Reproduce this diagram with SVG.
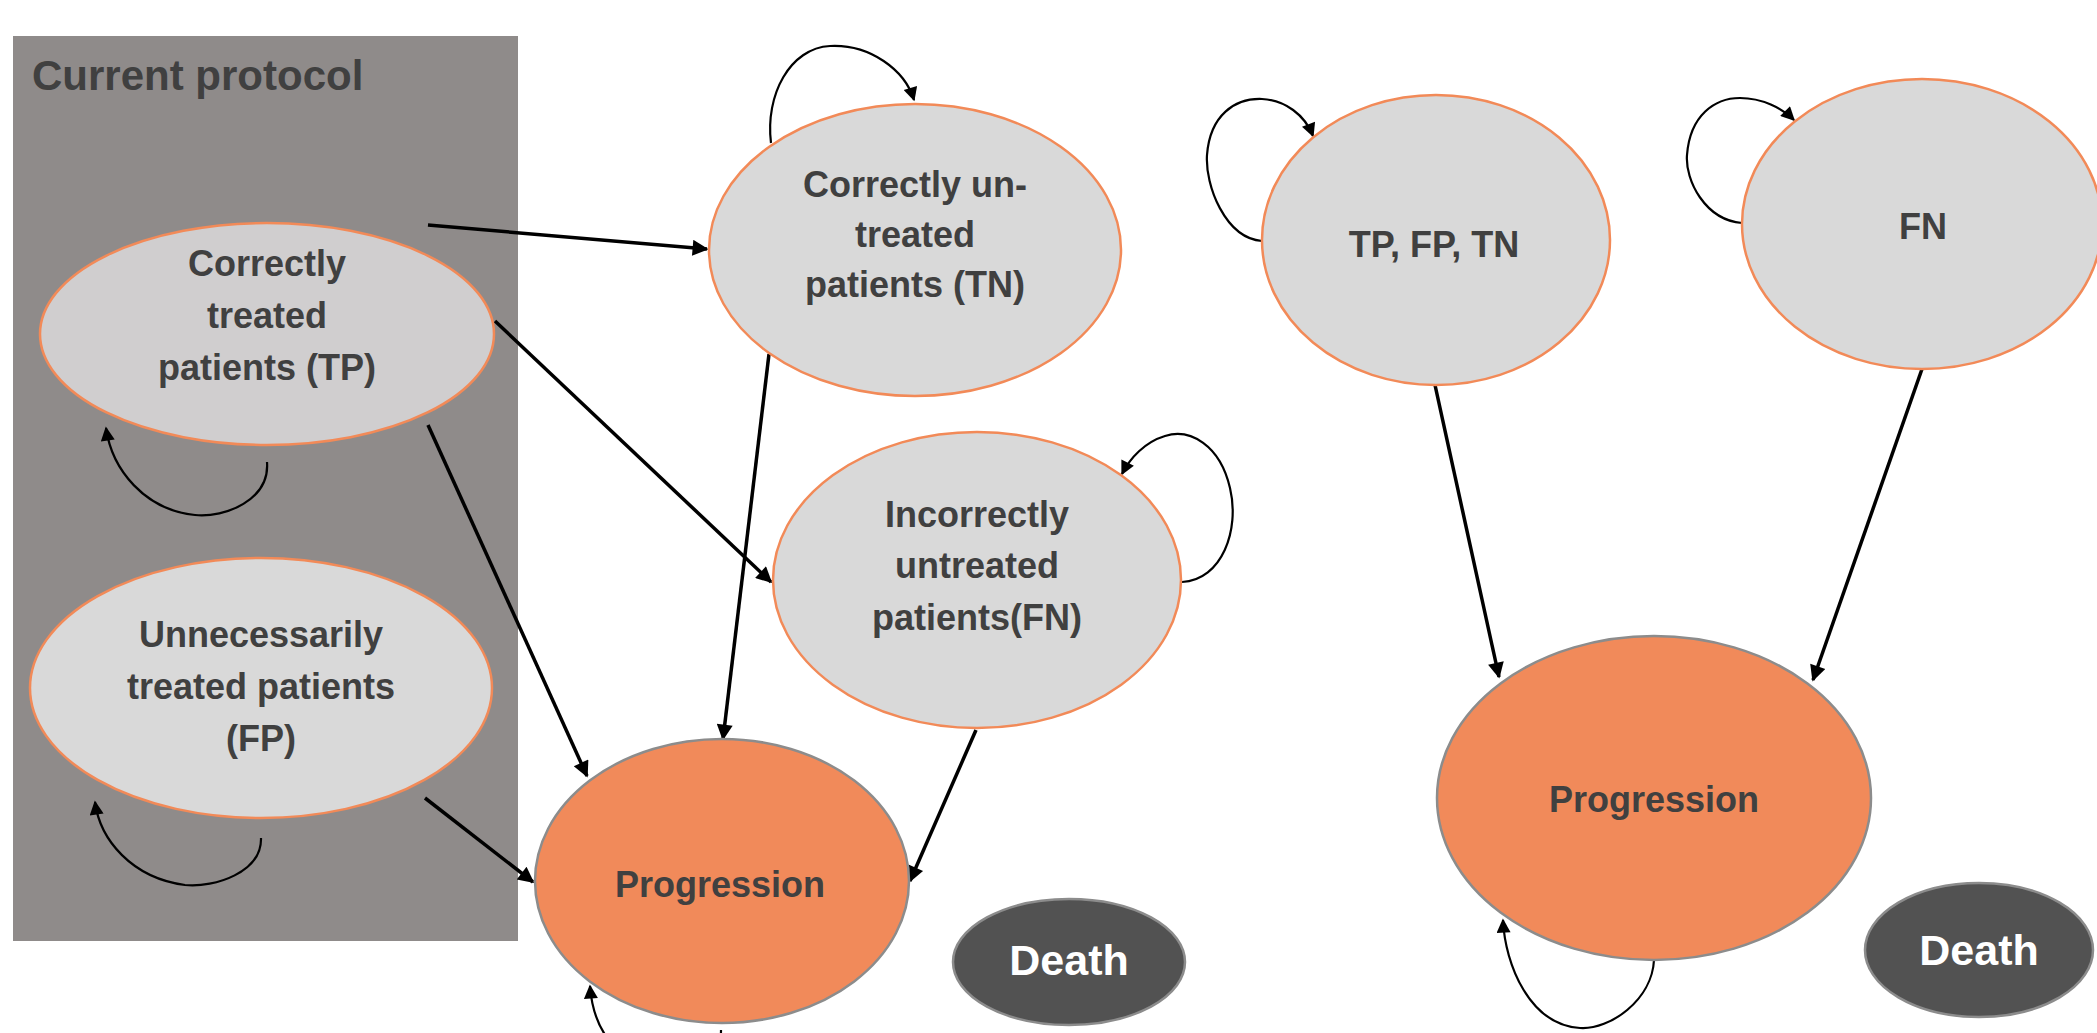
<svg xmlns="http://www.w3.org/2000/svg" width="2097" height="1033" viewBox="0 0 2097 1033">
<defs>
<marker id="ah" viewBox="0 0 10 10" refX="9" refY="5" markerWidth="20" markerHeight="16" markerUnits="userSpaceOnUse" orient="auto">
<path d="M0,0 L10,5 L0,10 z" fill="#000"/>
</marker>
<marker id="ahs" viewBox="0 0 10 10" refX="9" refY="5" markerWidth="18" markerHeight="14" markerUnits="userSpaceOnUse" orient="auto">
<path d="M0,0 L10,5 L0,10 z" fill="#000"/>
</marker>
<style>
.st{fill:#d9d9d9;stroke:#f28a58;stroke-width:2.5}
.pr{fill:#f18a5a;stroke:#8c8c8c;stroke-width:2.5}
.de{fill:#525252;stroke:#8c8c8c;stroke-width:2.5}
.t{font-family:"Liberation Sans",Arial,sans-serif;font-weight:bold;font-size:36px;fill:#404040;text-anchor:middle}
.tw{font-family:"Liberation Sans",Arial,sans-serif;font-weight:bold;font-size:43px;fill:#ffffff;text-anchor:middle}
.e{fill:none;stroke:#000;stroke-width:3.5;marker-end:url(#ah)}
.l{fill:none;stroke:#000;stroke-width:2.2;marker-end:url(#ahs)}
</style>
</defs>
<rect x="13" y="36" width="505" height="905" fill="#8f8b8a"/>
<text x="32" y="90" font-family="Liberation Sans, Arial, sans-serif" font-weight="bold" font-size="42" fill="#404040">Current protocol</text>

<g id="connectors">
<path class="e" d="M428,225 L707,249"/>
<path class="e" d="M495,321 L771,582"/>
<path class="e" d="M428,425 L587,776"/>
<path class="e" d="M425,798 L533,882"/>
<path class="e" d="M769,354 L723,739"/>
<path class="e" d="M976,730 L910,881"/>
<path class="e" d="M1435,385 L1499,677"/>
<path class="e" d="M1922,369 L1813,680"/>
<path class="l" d="M267,462 C270,500 225,518 195,515 C145,510 112,470 106,428"/>
<path class="l" d="M261,838 C262,872 215,888 185,885 C132,878 100,840 95,802"/>
<path class="l" d="M771,143 C765,95 790,48 830,46 C870,44 905,70 914,100"/>
<path class="l" d="M1182,582 C1222,580 1240,530 1230,488 C1220,445 1190,428 1165,436 C1145,442 1130,458 1122,474"/>
<path class="l" d="M1262,241 C1225,238 1205,185 1207,155 C1210,115 1235,98 1262,99 C1285,100 1305,115 1313,136"/>
<path class="l" d="M1742,223 C1705,220 1685,180 1687,155 C1690,115 1715,98 1740,98 C1762,98 1782,108 1794,120"/>
<path class="l" d="M721,1030 C722,1080 598,1095 590,986"/>
<path class="l" d="M1654,960 C1652,1000 1610,1030 1580,1028 C1530,1025 1505,965 1503,920"/>
</g>

<g id="tp">
<ellipse class="st" cx="267" cy="334" rx="227" ry="111" style="fill:#d0cecf"/>
<text class="t" x="267" y="276">Correctly</text>
<text class="t" x="267" y="328">treated</text>
<text class="t" x="267" y="380">patients (TP)</text>
</g>
<g id="fp">
<ellipse class="st" cx="261" cy="688" rx="231" ry="130"/>
<text class="t" x="261" y="647">Unnecessarily</text>
<text class="t" x="261" y="699">treated patients</text>
<text class="t" x="261" y="751">(FP)</text>
</g>
<g id="tn">
<ellipse class="st" cx="915" cy="250" rx="206" ry="146"/>
<text class="t" x="915" y="197">Correctly un-</text>
<text class="t" x="915" y="247">treated</text>
<text class="t" x="915" y="297">patients (TN)</text>
</g>
<g id="fn">
<ellipse class="st" cx="977" cy="580" rx="204" ry="148"/>
<text class="t" x="977" y="527">Incorrectly</text>
<text class="t" x="977" y="578">untreated</text>
<text class="t" x="977" y="630">patients(FN)</text>
</g>
<g id="progression1">
<ellipse class="pr" cx="722" cy="881" rx="187" ry="142"/>
<text class="t" x="720" y="897">Progression</text>
</g>
<g id="death1">
<ellipse class="de" cx="1069" cy="962" rx="116" ry="63"/>
<text class="tw" x="1069" y="975">Death</text>
</g>
<g id="tpfptn">
<ellipse class="st" cx="1436" cy="240" rx="174" ry="145"/>
<text class="t" x="1434" y="257">TP, FP, TN</text>
</g>
<g id="fn2">
<ellipse class="st" cx="1922" cy="224" rx="180" ry="145"/>
<text class="t" x="1923" y="239">FN</text>
</g>
<g id="progression2">
<ellipse class="pr" cx="1654" cy="798" rx="217" ry="162"/>
<text class="t" x="1654" y="812">Progression</text>
</g>
<g id="death2">
<ellipse class="de" cx="1979" cy="950" rx="114" ry="67"/>
<text class="tw" x="1979" y="965">Death</text>
</g>
</svg>
